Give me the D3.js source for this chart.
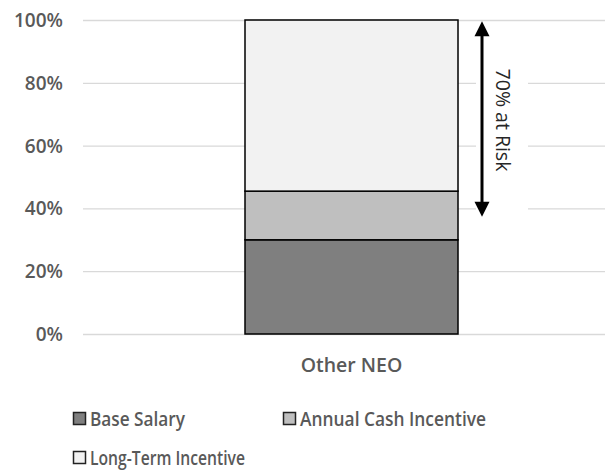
<!DOCTYPE html>
<html><head><meta charset="utf-8">
<script src="https://cdn.jsdelivr.net/npm/d3@7"></script>
<style>body{margin:0;background:#fff}svg{display:block}</style>
</head><body>
<svg id="c" width="605" height="472"></svg>
<script>
const categories = ["Other NEO"];
const seriesNames = ["Base Salary", "Annual Cash Incentive", "Long-Term Incentive"];
const baseSalary = [0.30];
const annualCash = [0.155];
const longTerm = [0.545];
const tickValues = [0, 0.2, 0.4, 0.6, 0.8, 1.0];
const annotation = "70% at Risk";
const atRiskRange = [0.99, 0.38];

const colors = ["#7f7f7f", "#bfbfbf", "#f2f2f2"];
const font = "'Open Sans', sans-serif";
const svg = d3.select("#c");

const y = d3.scaleLinear().domain([0, 1]).range([334, 20]);
const x = d3.scaleBand().domain(categories).range([245, 458]).padding(0);

const rows = categories.map((c, i) => ({cat: c, "Base Salary": baseSalary[i], "Annual Cash Incentive": annualCash[i], "Long-Term Incentive": longTerm[i]}));
const stacked = d3.stack().keys(seriesNames)(rows);

// gridlines
const yAxis = d3.axisLeft(y).tickValues(tickValues).tickFormat(d3.format(".0%")).tickSize(-(605 - 83)).tickPadding(20);
const gy = svg.append("g").attr("transform", "translate(83,0)").call(yAxis);
gy.select(".domain").remove();
gy.selectAll(".tick line").attr("stroke", "#d9d9d9").attr("stroke-width", 1.3);
gy.selectAll(".tick text").attr("fill", "#595959").attr("font-family", font).attr("font-size", 19).attr("font-weight", 600)
  .attr("dy", "0.34em");

// bars
svg.append("g").selectAll("g").data(stacked).join("g").attr("fill", (d, i) => colors[i])
  .selectAll("rect").data(d => d).join("rect")
  .attr("x", d => x(d.data.cat))
  .attr("width", x.bandwidth())
  .attr("y", d => y(d[1]))
  .attr("height", d => y(d[0]) - y(d[1]))
  .attr("stroke", "#000").attr("stroke-width", 1.5);

// category label
const cx = x(categories[0]) + x.bandwidth() / 2;
svg.append("text").attr("x", cx).attr("y", 372).attr("text-anchor", "middle")
  .attr("fill", "#595959").attr("font-family", font).attr("font-size", 19.5).attr("font-weight", 600)
  .text(categories[0]);

// annotation text box
svg.append("rect").attr("x", 476).attr("y", 26).attr("width", 52).attr("height", 188).attr("fill", "#fff");
// arrow
const ax = 482;
const yTop = y(atRiskRange[0]), yBot = y(atRiskRange[1]);
svg.append("line").attr("x1", ax).attr("x2", ax).attr("y1", yTop + 8).attr("y2", yBot - 8)
  .attr("stroke", "#000").attr("stroke-width", 3);
svg.append("path").attr("d", `M${ax},${yTop - 2} L${ax - 7.5},${yTop + 13} L${ax + 7.5},${yTop + 13} Z`).attr("fill", "#000");
svg.append("path").attr("d", `M${ax},${yBot + 2} L${ax - 7.5},${yBot - 13} L${ax + 7.5},${yBot - 13} Z`).attr("fill", "#000");
svg.append("text").attr("transform", `translate(496,120) rotate(90)`).attr("text-anchor", "middle")
  .attr("fill", "#262626").attr("font-family", font).attr("font-size", 19.5)
  .text(annotation);

// legend
const legendPos = [[73, 419], [283, 419], [73, 458]];
const legendWidths = [95, 186, 155];
const lg = svg.append("g").selectAll("g").data(seriesNames).join("g")
  .attr("transform", (d, i) => `translate(${legendPos[i][0]},${legendPos[i][1]})`);
lg.append("rect").attr("x", 0.5).attr("y", -6.5).attr("width", 12).attr("height", 12)
  .attr("fill", (d, i) => colors[i]).attr("stroke", "#222").attr("stroke-width", 1.5);
lg.append("text").attr("x", 17).attr("y", 7).attr("fill", "#595959").attr("font-family", font)
  .attr("font-size", 19).attr("font-weight", 600)
  .attr("textLength", (d, i) => legendWidths[i]).attr("lengthAdjust", "spacingAndGlyphs")
  .text(d => d);
</script>
</body></html>
